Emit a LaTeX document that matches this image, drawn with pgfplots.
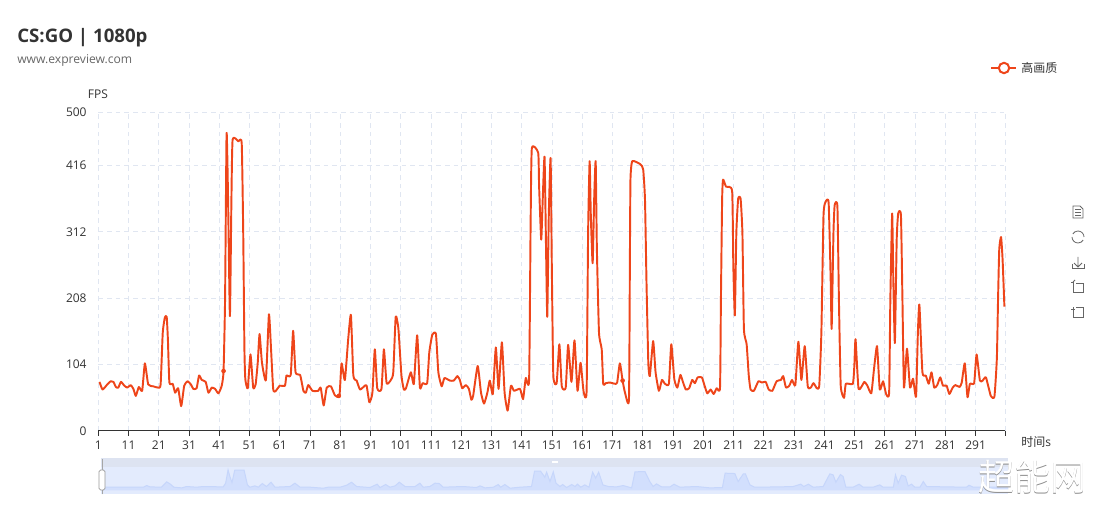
\documentclass[border=0pt]{standalone}
\usepackage{pgfplots}
\pgfplotsset{compat=1.18}
\usepackage{fontspec}
\setmainfont{Open Sans}
\newfontfamily\cjk{Noto Sans CJK SC}
\definecolor{ser}{HTML}{EE451A}
\definecolor{gridc}{HTML}{E0E6F1}
\definecolor{txt}{HTML}{333333}
\definecolor{bandtop}{HTML}{DDE3F1}
\definecolor{bandbg}{HTML}{E3EBFD}
\definecolor{miniarea}{HTML}{D2DFFD}
\definecolor{miniline}{HTML}{C6D6FB}
\pgfplotstableread{
x y
1.4 77
2.4 65
3.8 72
5.1 78
6.0 77
6.8 69
7.6 68
8.5 77
9.6 71
10.6 68
11.7 72
12.6 66
13.4 55
14.4 69
15.5 63
16.4 106
17.5 73
19.2 70
20.8 68
21.6 73
22.3 154
23.0 178
23.6 179
24.0 144
24.5 76
25.6 74
26.4 60
27.4 67
28.4 39
29.4 71
30.5 78
31.6 73
32.4 66
33.5 67
34.3 87
35.2 80
36.5 77
37.4 60
38.5 68
39.6 66
40.7 59
41.8 71
42.4 94
42.9 206
43.4 467
43.9 363
44.5 180
45.0 363
45.4 457
47.3 454
48.4 451
48.9 311
49.3 128
49.6 81
50.4 67
51.3 120
52.2 68
53.0 73
53.7 107
54.3 152
55.1 107
56.4 80
57.4 183
58.1 128
58.8 66
59.5 62
61.0 71
62.7 71
63.2 87
64.6 88
65.4 157
66.2 92
67.7 88
68.8 63
69.6 60
70.4 72
71.8 63
73.7 63
74.5 68
75.5 40
76.5 68
77.9 70
79.2 56
80.7 55
81.4 106
82.5 80
83.6 144
84.5 182
85.3 87
86.4 79
87.5 65
89.1 71
89.7 71
90.6 45
91.6 60
92.4 128
93.2 67
94.6 66
95.4 128
96.3 75
97.7 80
98.5 92
99.3 179
100.2 160
101.2 87
102.0 65
102.7 67
104.3 92
105.3 74
106.4 150
107.3 68
108.2 75
109.7 75
110.4 123
111.4 151
112.6 152
113.4 92
114.5 70
115.4 83
117.2 79
118.5 79
119.7 86
120.5 80
121.3 67
122.5 72
123.5 66
124.3 49
124.9 55
126.4 102
127.5 60
128.5 43
129.6 60
130.4 79
131.4 58
132.4 131
133.3 66
134.4 139
135.3 60
136.3 32
137.4 71
138.4 63
140.4 66
141.4 50
142.3 83
143.4 80
143.9 326
144.3 443
146.4 436
146.7 384
147.4 300
147.9 363
148.5 430
149.0 285
149.4 179
149.9 337
150.5 428
150.9 259
151.4 87
152.5 75
153.4 136
154.2 70
155.5 68
156.3 135
157.4 77
158.4 142
159.4 63
160.4 107
161.4 62
162.4 62
162.9 311
163.4 423
163.8 337
164.4 263
164.9 363
165.4 423
165.8 285
166.5 154
167.4 128
167.9 74
168.8 75
170.1 76
171.8 74
172.5 76
173.4 106
174.3 79
175.1 60
176.4 49
176.7 259
176.9 394
177.5 423
180.2 418
181.1 410
181.7 363
182.2 233
182.8 107
183.3 86
184.4 141
185.2 92
186.3 63
187.3 80
188.3 74
189.6 74
190.4 136
191.4 81
192.4 68
193.4 88
194.3 76
195.2 65
196.3 67
197.3 80
198.2 75
199.1 84
200.5 84
201.4 71
202.3 59
203.4 65
204.4 58
205.4 67
206.5 68
206.8 206
207.2 363
207.5 394
208.5 383
210.5 376
210.9 259
211.4 181
211.9 311
212.5 364
213.3 364
213.9 311
214.4 160
215.3 136
216.0 87
216.6 65
217.7 63
219.2 78
220.3 76
221.6 77
222.6 65
223.8 63
225.2 78
226.6 80
227.4 86
228.3 68
229.4 71
230.3 80
231.4 72
232.4 140
233.4 80
234.5 133
235.5 70
236.5 68
237.4 75
238.5 67
239.3 71
240.0 154
240.7 337
241.3 358
242.4 358
243.1 233
243.4 160
244.0 311
244.4 354
245.3 352
245.8 206
246.4 71
247.5 52
248.1 74
250.4 74
250.9 102
251.3 144
252.3 66
254.2 77
255.2 71
256.5 59
257.4 97
258.4 133
259.3 65
260.4 78
261.4 58
262.4 60
262.8 206
263.4 341
263.8 233
264.3 138
264.9 300
265.4 341
266.3 338
266.8 206
267.3 68
268.3 129
269.3 68
270.3 82
271.3 54
271.9 154
272.4 198
273.4 92
274.5 87
275.5 74
276.4 92
277.3 68
278.3 72
279.3 84
280.2 71
281.4 71
282.3 58
283.4 68
284.3 72
285.7 69
286.4 76
287.4 106
288.3 53
289.1 74
290.5 75
291.3 120
292.4 79
293.3 79
294.4 84
296.0 55
297.2 54
298.0 113
298.4 206
298.8 285
299.4 304
299.9 269
300.5 195
}\mainseries
\pgfplotstableread{
x y
1 70
14.9 70
16 106
17.1 77
20.9 70
22.6 187
23.7 143
25 70
27.6 55
29.2 85
32.5 70
34.7 85
41.3 77
42.1 158
42.9 450
43.5 304
44.2 172
45.1 442
48.2 442
49.3 121
50.1 70
51.8 99
52.9 70
54.2 150
55.6 85
57.1 179
58.4 70
63.4 85
65 158
66.7 70
70 70
74.4 48
76 70
79.9 70
82.1 113
83.7 179
85.4 85
89.8 63
92.2 136
93.1 63
95 128
96.4 70
98.1 99
99.5 179
101.4 85
104.7 85
106.3 158
107.4 70
109.6 85
111.3 158
112.7 150
114 70
120.6 85
125 63
126.2 99
127.8 55
130.6 70
132.2 128
133 70
134.4 128
136.1 48
139.4 70
143.2 85
144.2 420
146.2 420
147.6 289
148.2 399
149.3 194
150.4 406
151.3 158
152.6 85
153.5 128
154.8 63
156.5 128
157.6 85
158.4 136
159.5 70
160.8 121
162.2 70
163.4 400
164.4 270
165.4 400
166.8 120
168.6 85
171.3 77
173.5 106
176.3 55
177.4 406
180.7 413
182.3 194
183.4 85
184.5 143
186.2 77
189 77
190.3 136
192.2 70
197.7 85
202.2 55
206.3 63
207.2 377
210.4 369
211.5 194
213.2 362
213.9 362
215.4 121
217 70
225.3 77
229.7 85
232.2 136
233.2 85
234.7 136
236.3 70
239.6 85
241.8 362
242.9 340
243.8 179
245.3 347
246.2 304
247.1 70
249.5 70
251.5 136
252.8 70
256.1 70
258.3 121
259.4 70
262.8 70
263.5 340
264.4 158
265.5 333
266.8 304
267.7 99
268.8 136
269.9 70
271.6 70
272.7 194
273.8 85
280.4 77
287 70
287.8 113
289.2 70
294.1 70
297.4 70
300.8 128
}\miniseries
\begin{document}
\begin{tikzpicture}[x=0.75pt,y=0.75pt,font=\fontsize{9pt}{10pt}\selectfont]
\useasboundingbox (0,0) rectangle (1103,517);
% title
\node[anchor=west,font=\fontsize{14pt}{15pt}\selectfont\bfseries,text=txt,inner sep=0pt] at (17,479) {CS:GO | 1080p};
\node[anchor=west,font=\fontsize{9.1pt}{10pt}\selectfont,text=black!60,inner sep=0pt] at (17,456) {www.expreview.com};
% main axis
\begin{axis}[
  at={(73.725pt,64.5pt)},anchor=south west,
  scale only axis,width=680.25pt,height=239.25pt,
  xmin=1,xmax=300.8,ymin=0,ymax=500,
  axis y line=left,axis x line=bottom,
  axis line style={-},
  separate axis lines,
  y axis line style={draw=none},
  x axis line style={draw=txt,line width=0.75pt},
  xtick={1,11,...,291},
  extra x ticks={300.8},extra x tick labels={},
  extra x tick style={grid=major},
  ytick={0,104,208,312,416,500},
  xticklabels={1,11,21,31,41,51,61,71,81,91,101,111,121,131,141,151,161,171,181,191,201,211,221,231,241,251,261,271,281,291},
  xtick style={draw=txt,line width=0.75pt},
  tick align=outside,
  major tick length=3.75pt,
  ytick style={draw=none},
  grid=major,
  major grid style={draw=gridc,line width=0.75pt,dash pattern=on 3.5pt off 3pt},
  tick label style={font=\fontsize{9pt}{10pt}\selectfont,text=txt},
  /pgf/number format/assume math mode=true,
  x tick label style={yshift=0pt},
  y tick label style={xshift=-1.5pt},
  clip=false,
]
\addplot[ser,line width=1.45pt,smooth,tension=0.3,line join=round,no marks] table[x=x,y=y]{\mainseries};
\addplot[only marks,mark=*,mark size=1.5pt,ser] coordinates {(42.4,94) (80.5,55) (174.3,79)};
\end{axis}
\node[font=\fontsize{9pt}{10pt}\selectfont,text=txt,inner sep=0pt] at (98,423) {FPS};
\node[anchor=west,font=\fontsize{9pt}{10pt}\selectfont,text=txt,inner sep=0pt] at (1021,75) {{\cjk 时间}s};
% legend
\draw[ser,line width=1.5pt] (991,449) -- (1016,449);
\draw[ser,line width=1.5pt,fill=white] (1004,449) circle (5.2);
\node[anchor=west,font=\fontsize{9pt}{10pt}\selectfont\cjk,text=txt,inner sep=0pt] at (1021,449) {高画质};
% data zoom
\fill[bandbg] (101.3,22.5) rectangle (1008.3,50);
\fill[bandtop] (101.3,50) rectangle (1008.3,58.5);
\begin{axis}[
  at={(75.975pt,16.875pt)},anchor=south west,
  scale only axis,width=680.25pt,height=22.5pt,
  xmin=1,xmax=300.8,ymin=-90,ymax=567,
  axis lines=none,clip=true,
]
\addplot[draw=none,fill=miniarea,no marks] table[x=x,y=y]{\miniseries} \closedcycle;
\addplot[draw=miniline,line width=0.75pt,no marks] table[x=x,y=y]{\miniseries};
\end{axis}
\draw[black!35,line width=0.5pt] (102,22.5) -- (102,58);
\draw[draw=black!40,fill=white,rounded corners=1.2pt,line width=0.5pt] (99,27) rectangle (105,47);
\fill[white] (552,54) rectangle (558,56);
% watermark
\node[anchor=west,font=\fontsize{27pt}{28pt}\selectfont\cjk,text=black!45,inner sep=0pt] at (978.7,39.3) {超能网};
\node[anchor=west,font=\fontsize{27pt}{28pt}\selectfont\cjk,text=white,inner sep=0pt] at (978,40) {超能网};
% toolbox
\begin{scope}[draw=black!60,line width=0.6pt]
  \draw (1073,311) -- (1080,311) -- (1083,308) -- (1083,299) -- (1073,299) -- cycle;
  \draw (1075,308) -- (1081,308) (1075,305) -- (1081,305) (1075,302) -- (1081,302);
  \draw (1084,280) arc (0:150:6);
  \draw (1072,280) arc (180:330:6);
  \draw (1078,260) -- (1078,250) (1074,254) -- (1078,250) -- (1082,254);
  \draw (1072,253) -- (1072,249) -- (1084,249) -- (1084,253);
  \draw (1071,235) -- (1073,235) -- (1073,225) -- (1083,225) -- (1083,234) -- (1076,234);
  \draw (1075,237) -- (1073,235);
  \draw (1076,210) -- (1083,210) -- (1083,200) -- (1073,200) -- (1073,208);
  \draw (1071,208) -- (1075,208) (1073,210) -- (1073,206);
\end{scope}
\end{tikzpicture}
\end{document}
